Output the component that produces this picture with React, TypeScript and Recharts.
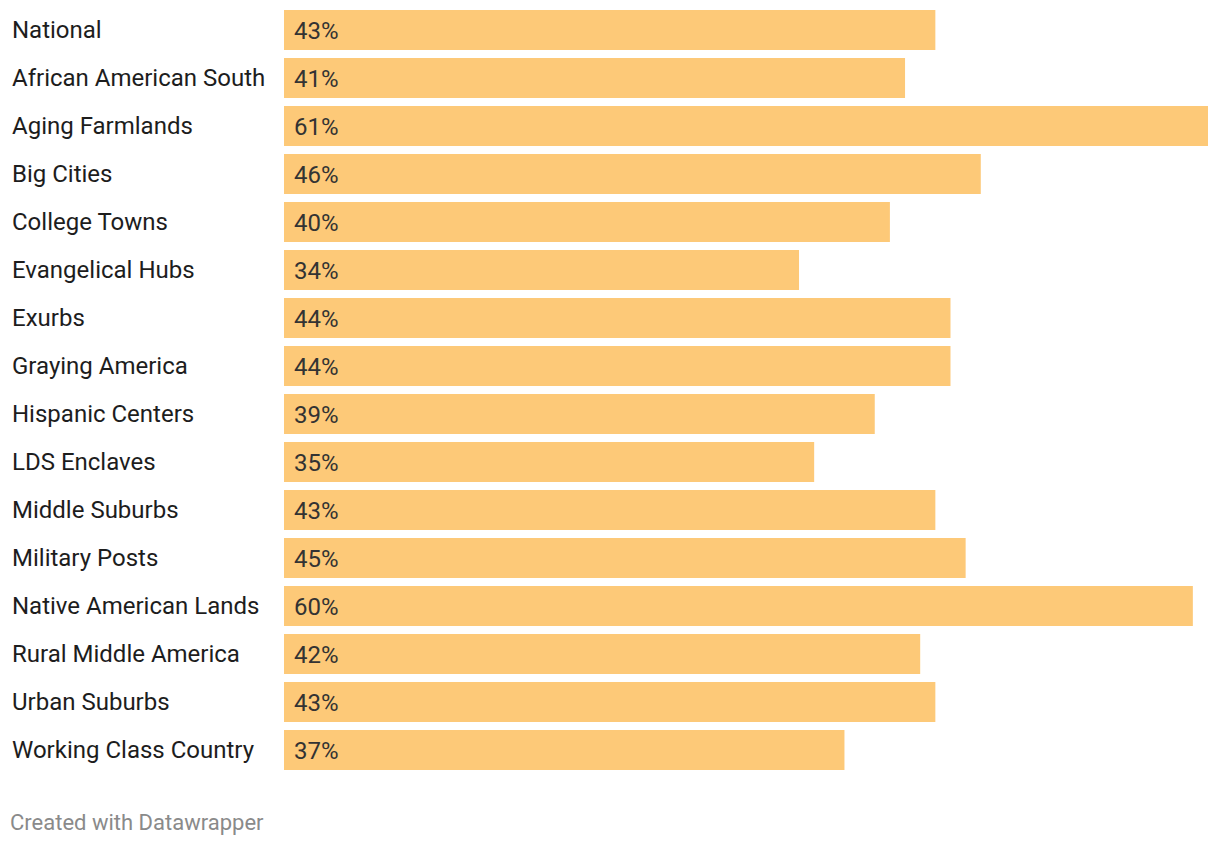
import React from "react";
import { BarChart, Bar, XAxis, YAxis, LabelList } from "recharts";

const categories = [
  "National",
  "African American South",
  "Aging Farmlands",
  "Big Cities",
  "College Towns",
  "Evangelical Hubs",
  "Exurbs",
  "Graying America",
  "Hispanic Centers",
  "LDS Enclaves",
  "Middle Suburbs",
  "Military Posts",
  "Native American Lands",
  "Rural Middle America",
  "Urban Suburbs",
  "Working Class Country",
];
const values = [43, 41, 61, 46, 40, 34, 44, 44, 39, 35, 43, 45, 60, 42, 43, 37];

const data = categories.map((name, i) => ({ name, value: values[i] }));

const FONT = "Roboto, 'Noto Sans', sans-serif";

const CategoryTick = (props: any) => {
  const { y, payload } = props;
  return (
    <text x={12} y={y} dy={8} textAnchor="start" fill="#1d1d1d" fontSize={24} fontFamily={FONT}>
      {payload.value}
    </text>
  );
};

export default function App() {
  return (
    <div style={{ position: "absolute", left: 0, top: 0, width: 1220, height: 846, background: "#fff", fontFamily: FONT }}>
      <BarChart
        width={1220}
        height={780}
        data={data}
        layout="vertical"
        margin={{ top: 6, right: 12, bottom: 6, left: 0 }}
        barCategoryGap={4}
      >
        <XAxis type="number" domain={[0, 61]} hide />
        <YAxis
          type="category"
          dataKey="name"
          width={284}
          axisLine={false}
          tickLine={false}
          tick={<CategoryTick />}
          interval={0}
        />
        <Bar dataKey="value" fill="#fdc978" isAnimationActive={false}>
          <LabelList
            dataKey="value"
            position="insideLeft"
            offset={10}
            formatter={(v: any) => `${v}%`}
            fill="#333"
            fontSize={24}
            fontFamily={FONT}
          />
        </Bar>
      </BarChart>
      <div style={{ position: "absolute", left: 10, top: 810, fontSize: 22, lineHeight: "26px", color: "#8a8a8a", fontFamily: FONT }}>
        Created with Datawrapper
      </div>
    </div>
  );
}
